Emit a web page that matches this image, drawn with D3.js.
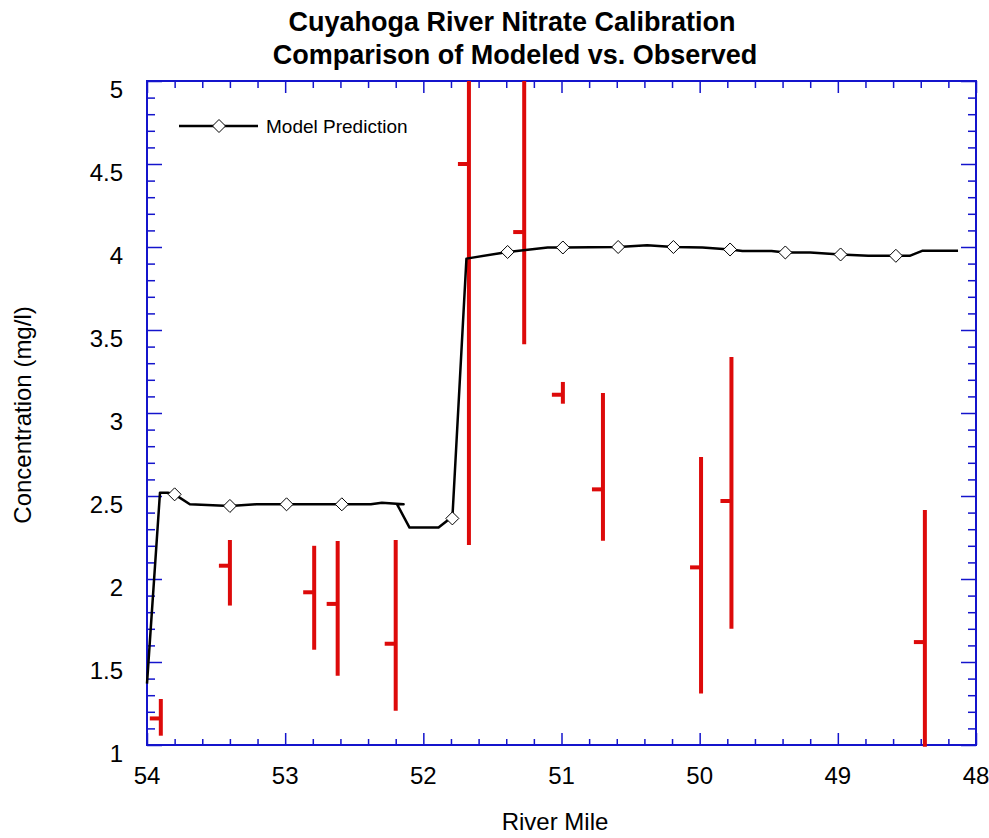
<!DOCTYPE html>
<html>
<head>
<meta charset="utf-8">
<script src="https://cdn.jsdelivr.net/npm/d3@7"></script>
<style>
  body { margin: 0; background: #fff; }
  text { font-family: "Liberation Sans", Arial, sans-serif; }
</style>
</head>
<body>
<div id="chart"></div>
<script>
// model prediction line (river mile, mg/l)
const modelMile = [54.00, 53.906, 53.85, 53.80, 53.69, 53.40, 53.21, 52.99, 52.75, 52.59, 52.38, 52.30, 52.143, 52.19, 52.10, 51.89, 51.83, 51.79, 51.688, 51.39, 51.10, 50.99, 50.59, 50.38, 50.19, 49.98, 49.78, 49.69, 49.48, 49.38, 49.20, 48.98, 48.78, 48.58, 48.48, 48.39, 48.13];
const modelConc = [1.37, 2.52, 2.52, 2.51, 2.45, 2.44, 2.45, 2.45, 2.45, 2.45, 2.45, 2.46, 2.45, 2.45, 2.31, 2.31, 2.35, 2.365, 3.93, 3.97, 3.997, 3.997, 4.00, 4.01, 4.00, 3.997, 3.985, 3.976, 3.976, 3.967, 3.967, 3.955, 3.947, 3.947, 3.947, 3.977, 3.977];
// stations that carry a diamond marker
const markerMile = [53.80, 53.40, 52.99, 52.59, 51.79, 51.39, 50.99, 50.59, 50.19, 49.78, 49.38, 48.98, 48.58];
const markerConc = [2.51, 2.44, 2.45, 2.45, 2.365, 3.97, 3.997, 4.00, 4.00, 3.985, 3.967, 3.955, 3.947];

// observed ranges
const obsMile = [53.90, 53.40, 52.79, 52.62, 52.20, 51.67, 51.27, 50.99, 50.70, 49.99, 49.77, 48.37];
const obsMean = [1.16, 2.08, 1.92, 1.85, 1.61, 4.50, 4.09, 3.11, 2.54, 2.07, 2.47, 1.62];
const obsMin  = [1.056, 1.84, 1.574, 1.417, 1.207, 2.205, 3.414, 3.056, 2.23, 1.31, 1.70, 0.99];
const obsMax  = [1.277, 2.235, 2.20, 2.229, 2.235, 5.0, 5.0, 3.187, 3.12, 2.735, 3.337, 2.416];

const xMajor = [54, 53, 52, 51, 50, 49, 48];
const yMajor = [1, 1.5, 2, 2.5, 3, 3.5, 4, 4.5, 5];

const W = 989, H = 838;
const pLeft = 147, pRight = 976, pTop = 81, pBottom = 745;
const blue = "#1414cc";

const svg = d3.select("#chart").append("svg")
  .attr("width", W).attr("height", H);

const x = d3.scaleLinear().domain([54, 48]).range([pLeft, pRight]);
const y = d3.scaleLinear().domain([1, 5]).range([pBottom, pTop]);

// titles
svg.append("text").attr("x", 512).attr("y", 31).attr("text-anchor", "middle")
  .style("font-size", "27px").style("font-weight", "bold")
  .text("Cuyahoga River Nitrate Calibration");
svg.append("text").attr("x", 515).attr("y", 64).attr("text-anchor", "middle")
  .style("font-size", "27px").style("font-weight", "bold")
  .text("Comparison of Modeled vs. Observed");

// ticks (inward), minor then major
const xMinor = d3.range(0, 31).map(i => 54 - i * 0.2).filter(v => Math.abs(v - Math.round(v)) > 1e-6);
const yMinor = d3.range(0, 41).map(i => 1 + i * 0.1).filter(v => Math.abs(v * 2 - Math.round(v * 2)) > 1e-6);

function tickGroup(axis, tx, ty) {
  const g = svg.append("g").attr("transform", `translate(${tx},${ty})`).call(axis);
  g.select(".domain").remove();
  g.selectAll(".tick line").attr("stroke", blue).attr("stroke-width", 1.5);
  g.selectAll(".tick text").remove();
  return g;
}
tickGroup(d3.axisBottom(x).tickValues(xMinor).tickSize(-6), 0, pBottom);
tickGroup(d3.axisBottom(x).tickValues(xMajor).tickSize(-12), 0, pBottom);
tickGroup(d3.axisTop(x).tickValues(xMinor).tickSize(-7), 0, pTop);
tickGroup(d3.axisTop(x).tickValues(xMajor).tickSize(-12), 0, pTop);
tickGroup(d3.axisLeft(y).tickValues(yMinor).tickSize(-8), pLeft, 0);
tickGroup(d3.axisLeft(y).tickValues(yMajor).tickSize(-15), pLeft, 0);
tickGroup(d3.axisRight(y).tickValues(yMinor).tickSize(-8), pRight, 0);
tickGroup(d3.axisRight(y).tickValues(yMajor).tickSize(-15), pRight, 0);

// frame
svg.append("rect").attr("x", pLeft).attr("y", pTop)
  .attr("width", pRight - pLeft).attr("height", pBottom - pTop)
  .attr("fill", "none").attr("stroke", blue).attr("stroke-width", 2);

// tick labels
svg.selectAll(".ylab").data(yMajor).enter().append("text")
  .attr("x", pLeft - 24).attr("y", d => y(d) + 17)
  .attr("text-anchor", "end").style("font-size", "24px")
  .text(d => d3.format("")(d));
svg.selectAll(".xlab").data(xMajor).enter().append("text")
  .attr("x", d => x(d)).attr("y", 784)
  .attr("text-anchor", "middle").style("font-size", "24px")
  .text(d => d);

// axis titles
svg.append("text").attr("x", 555).attr("y", 830).attr("text-anchor", "middle")
  .style("font-size", "24px").text("River Mile");
svg.append("text").attr("transform", "translate(31,415) rotate(-90)")
  .attr("text-anchor", "middle").style("font-size", "24px")
  .text("Concentration (mg/l)");

// observed bars
const obs = obsMile.map((m, i) => ({ mile: m, mean: obsMean[i], lo: obsMin[i], hi: obsMax[i] }));
const og = svg.append("g");
og.selectAll(".bar").data(obs).enter().append("line")
  .attr("x1", d => x(d.mile)).attr("x2", d => x(d.mile))
  .attr("y1", d => y(d.hi)).attr("y2", d => y(d.lo))
  .attr("stroke", "#dd0a0a").attr("stroke-width", 4);
og.selectAll(".mean").data(obs).enter().append("line")
  .attr("x1", d => x(d.mile) - 11).attr("x2", d => x(d.mile))
  .attr("y1", d => y(d.mean)).attr("y2", d => y(d.mean))
  .attr("stroke", "#dd0a0a").attr("stroke-width", 4);

// model line
const model = modelMile.map((m, i) => [m, modelConc[i]]);
svg.append("path").datum(model)
  .attr("d", d3.line().x(d => x(d[0])).y(d => y(d[1])))
  .attr("fill", "none").attr("stroke", "#000").attr("stroke-width", 2.5)
  .attr("stroke-linejoin", "round");

const diamond = s => `M0,${-s}L${s},0L0,${s}L${-s},0Z`;
svg.selectAll(".mk").data(markerMile.map((m, i) => [m, markerConc[i]])).enter().append("path")
  .attr("transform", d => `translate(${x(d[0])},${y(d[1])})`)
  .attr("d", diamond(6.5))
  .attr("fill", "#fff").attr("stroke", "#000").attr("stroke-width", 1);

// legend
svg.append("line").attr("x1", 179).attr("x2", 258).attr("y1", 126).attr("y2", 126)
  .attr("stroke", "#000").attr("stroke-width", 2.5);
svg.append("path").attr("transform", "translate(219,126)").attr("d", diamond(6.5))
  .attr("fill", "#fff").attr("stroke", "#000").attr("stroke-width", 1);
svg.append("text").attr("x", 266).attr("y", 133).style("font-size", "19px")
  .text("Model Prediction");
</script>
</body>
</html>
